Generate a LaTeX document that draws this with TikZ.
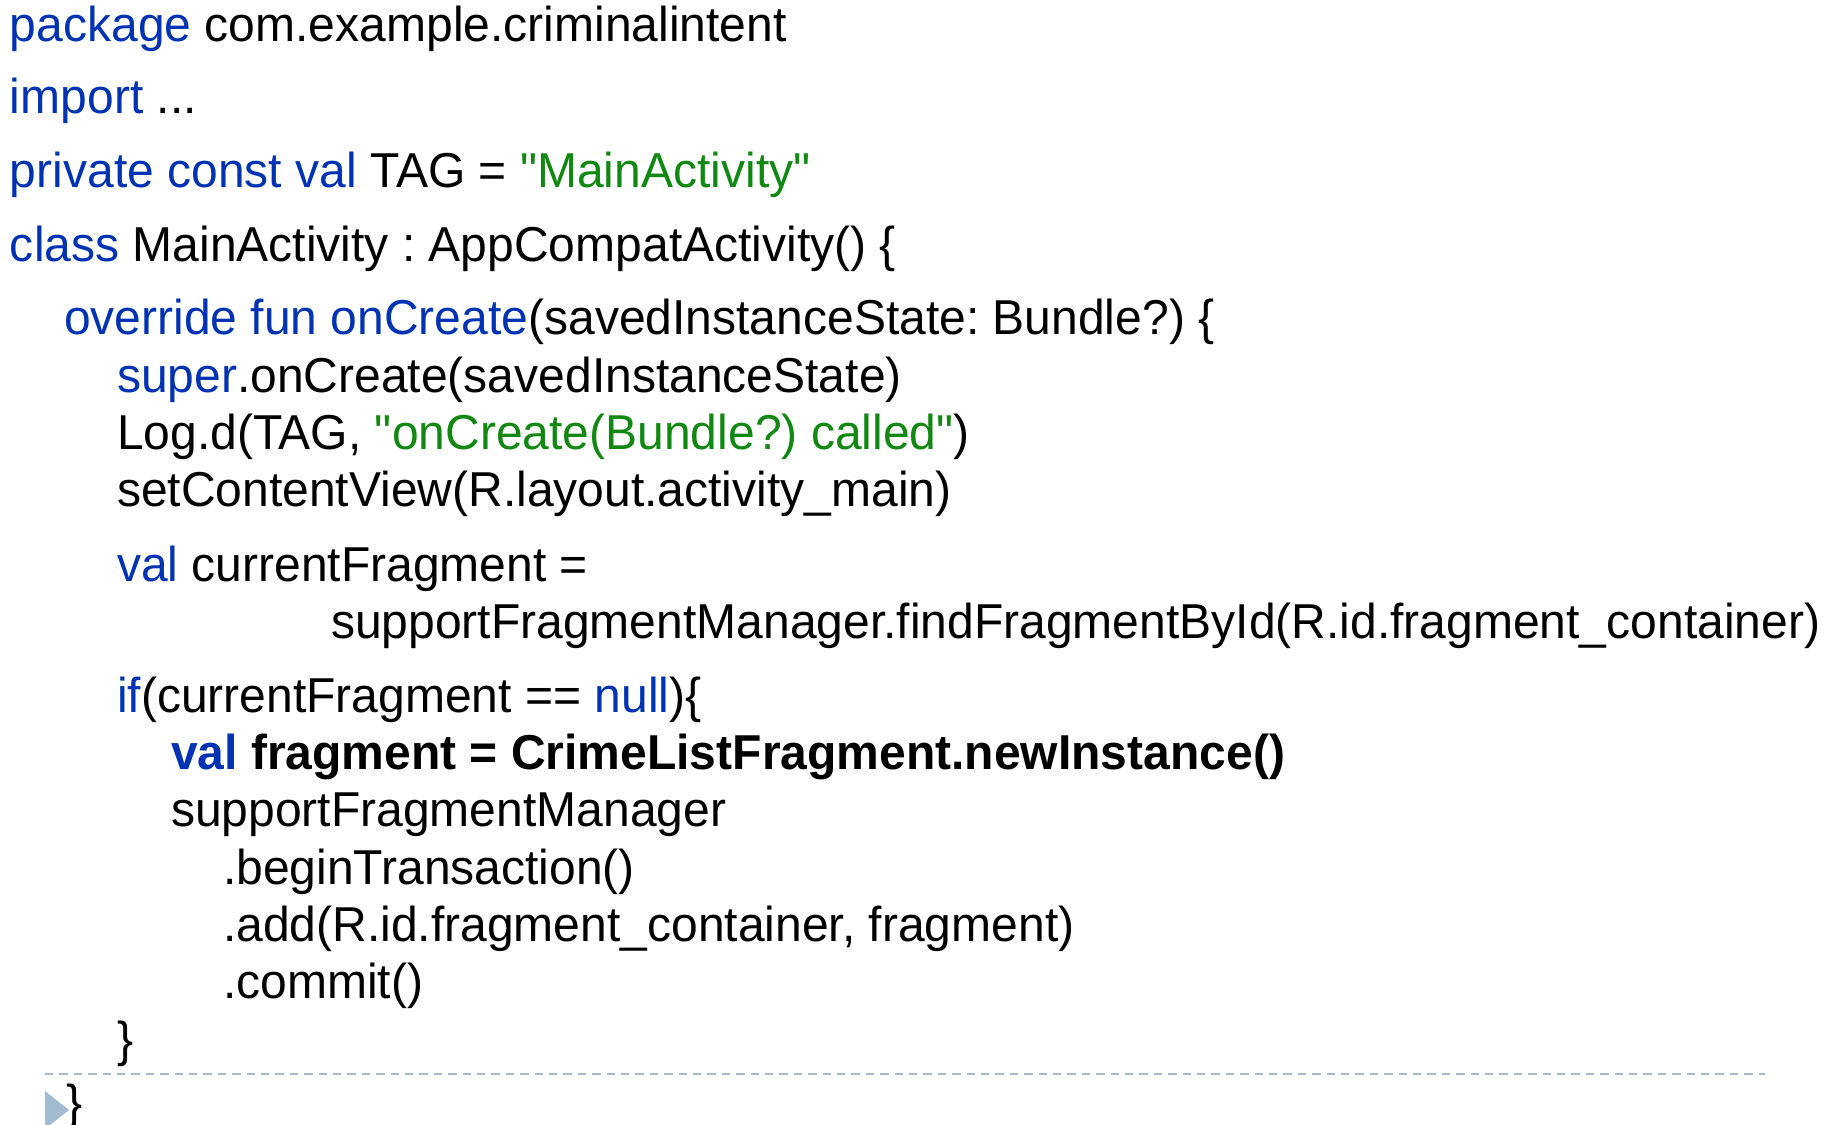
\documentclass[tikz,border=0pt]{standalone}
\usepackage{fontspec}
\setmainfont{Liberation Sans}[Ligatures=TeXOff,FakeStretch=0.98]
\frenchspacing
\definecolor{kw}{HTML}{0033B3}
\definecolor{str}{HTML}{118811}
\definecolor{rule}{HTML}{A2BAD2}
\newcommand{\kw}[1]{\textcolor{kw}{#1}}
\newcommand{\str}[1]{\textcolor{str}{#1}}
\begin{document}
\begin{tikzpicture}[x=0.5pt,y=-0.5pt,
  code/.style={anchor=base west,inner sep=0pt,outer sep=0pt,
    font=\fontsize{24.5pt}{28pt}\selectfont,text=black}]
\useasboundingbox (0,0) rectangle (1833,1125);
\node[code] (l1)  at (10,41)   {\kw{package} com.example.criminalintent};
\node[code] (l2)  at (10,113)  {\kw{import} ...};
\node[code] (l3)  at (10,187)  {\kw{private const val} TAG = \str{"MainActivity"}};
\node[code] (l4)  at (10,261)  {\kw{class} MainActivity : AppCompatActivity() \{};
\node[code] (l5)  at (64,334)  {\kw{override fun onCreate}(savedInstanceState: Bundle?) \{};
\node[code] (l6)  at (117,392) {\kw{super}.onCreate(savedInstanceState)};
\node[code] (l7)  at (117,449) {Log.d(TAG, \str{"onCreate(Bundle?) called"})};
\node[code] (l8)  at (117,506) {setContentView(R.layout.activity\_main)};
\node[code] (l9)  at (117,581) {\kw{val} currentFragment =};
\node[code] (l10) at (331,638) {supportFragmentManager.findFragmentById(R.id.fragment\_container)};
\node[code] (l11) at (117,712) {\kw{if}(currentFragment == \kw{null})\{};
\node[code] (l12) at (171,769) {\bfseries\kw{val} fragment = CrimeListFragment.newInstance()};
\node[code] (l13) at (171,826) {supportFragmentManager};
\node[code] (l14) at (223,884) {.beginTransaction()};
\node[code] (l15) at (223,941) {.add(R.id.fragment\_container, fragment)};
\node[code] (l16) at (223,998) {.commit()};
\node[code] (l17) at (117,1056) {\}};
\coordinate (ruleL) at (45,1074);
\coordinate (ruleR) at (1765,1074);
\draw[rule,line width=1.2pt,dash pattern=on 4.2pt off 3pt] (ruleL) -- (ruleR);
\fill[rule] (45,1091) -- (69,1110) -- (45,1129) -- cycle;
\node[code] (l18) at (66,1119) {\}};
\end{tikzpicture}
\end{document}
